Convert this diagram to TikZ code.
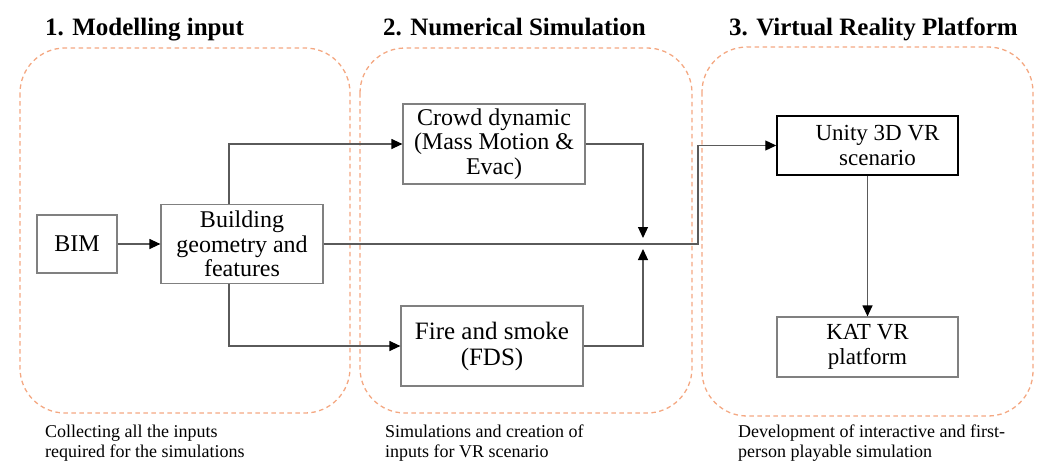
\documentclass[tikz,border=0pt]{standalone}
\usepackage{fontspec}
\setmainfont{Liberation Serif}
\newfontfamily\tnr{Liberation Serif}
\usetikzlibrary{arrows.meta}
\definecolor{grpc}{RGB}{244,168,130}
\definecolor{boxc}{RGB}{128,128,128}
\definecolor{linec}{RGB}{90,90,90}
\tikzset{
  groupbox/.style={draw=grpc, line width=1.3pt, dash pattern=on 4.5pt off 3.5pt, rounded corners=45pt},
  stepbox/.style={draw=boxc, line width=1.2pt, inner sep=0pt, align=center, font=\tnr\fontsize{24}{24.5}\selectfont},
  titletext/.style={anchor=base west, inner sep=0pt, font=\tnr\fontsize{25}{28}\bfseries\selectfont},
  captext/.style={anchor=north west, inner sep=0pt, align=left, font=\tnr\fontsize{18}{19.5}\selectfont},
  conn/.style={draw=linec, line width=1.2pt, -{Triangle[length=11pt,width=10pt,color=black]}},
}
\begin{document}
\begin{tikzpicture}[x=1pt,y=-1pt]
\useasboundingbox (0,0) rectangle (1038,463);
% group frames
\draw[groupbox] (20,48) rectangle (350,413);
\draw[groupbox] (360,48) rectangle (692,413);
\draw[groupbox] (702,47) rectangle (1033,416);
% titles
\node[titletext] (t1) at (45,35) {1. Modelling input};
\node[titletext] (t2) at (383,35) {2. Numerical Simulation};
\node[titletext] (t3) at (729,35) {3. Virtual Reality Platform};
% nodes
\node[stepbox, minimum width=80pt, minimum height=58pt] (bim) at (77,244) {BIM};
\node[stepbox, minimum width=162pt, minimum height=79pt] (bld) at (242,244) {Building\\geometry and\\features};
\node[stepbox, minimum width=182pt, minimum height=80pt] (crowd) at (494,144) {Crowd dynamic\\(Mass Motion \&\\Evac)};
\node[stepbox, minimum width=182pt, minimum height=80pt, font=\tnr\fontsize{25}{26}\selectfont] (fire) at (492,346) {Fire and smoke\\(FDS)};
\node[stepbox, draw=black, line width=1.5pt, minimum width=181pt, minimum height=59pt, font=\tnr\fontsize{23}{25}\selectfont] (unity) at (867.5,145.5) {\hspace*{20pt}Unity 3D VR\\\hspace*{20pt}scenario};
\node[stepbox, minimum width=181pt, minimum height=60pt, font=\tnr\fontsize{23}{25}\selectfont] (kat) at (867.5,347) {KAT VR\\platform};
% captions
\node[captext] (c1) at (45,425) {Collecting all the inputs\\required for the simulations};
\node[captext] (c2) at (385,425) {Simulations and creation of\\inputs for VR scenario};
\node[captext] (c3) at (738,425) {Development of interactive and first-\\person playable simulation};
% junction coordinates
\coordinate (jx) at (698,244);
\coordinate (dn) at (643,238);
\coordinate (up) at (643,249);
% connectors
\draw[conn] (bim.east) -- (bld.west);
\draw[conn] ([xshift=-13pt]bld.north) |- (crowd.west);
\draw[conn] ([xshift=-13pt]bld.south) |- (fire.west);
\draw[conn] (crowd.east) -| (dn);
\draw[conn] (fire.east) -| (up);
\draw[conn] (bld.east) -- (jx) |- (unity.west);
\draw[conn] (unity.south) -- (kat.north);
\end{tikzpicture}
\end{document}
